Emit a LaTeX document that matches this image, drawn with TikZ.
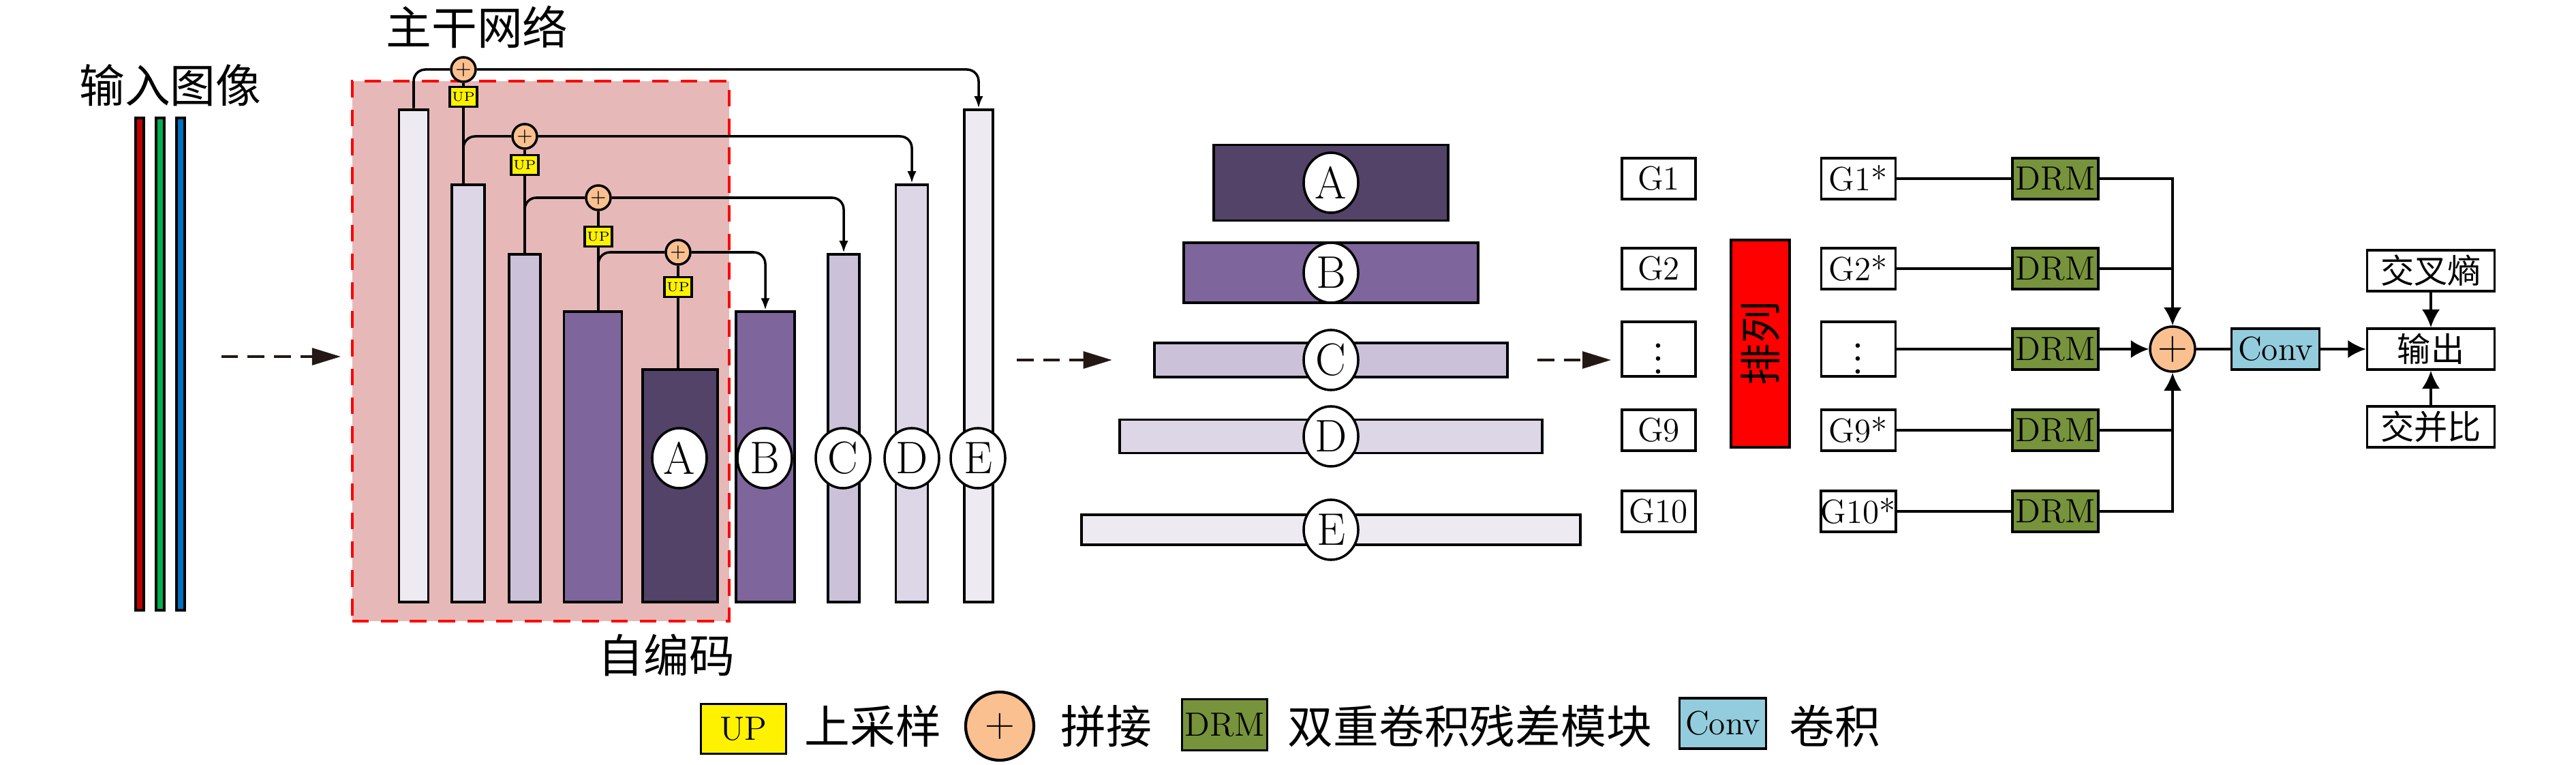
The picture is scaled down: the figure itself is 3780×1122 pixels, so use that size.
\documentclass[tikz,border=0pt]{standalone}
\usepackage{fontspec}
\newfontfamily\cjk{Noto Sans CJK SC}
\usetikzlibrary{arrows.meta,shapes.geometric}
\definecolor{lvA}{HTML}{534368}
\definecolor{lvB}{HTML}{7E659B}
\definecolor{lvC}{HTML}{CBC2DA}
\definecolor{lvD}{HTML}{DCD6E6}
\definecolor{lvE}{HTML}{EDEAF2}
\definecolor{encbg}{HTML}{E6B9B8}
\definecolor{peach}{HTML}{FAC090}
\definecolor{drmgreen}{HTML}{77933C}
\definecolor{convblue}{HTML}{93CDDD}
\definecolor{dasharr}{HTML}{231815}
\definecolor{rgbred}{HTML}{C00000}
\definecolor{rgbgreen}{HTML}{00B050}
\definecolor{rgbblue}{HTML}{0070C0}
\newcommand{\zh}[1]{{\cjk\fontsize{19}{19}\selectfont #1}}
\newcommand{\gdots}{\scalebox{1.35}{$\vdots$}}

\begin{document}
\begin{tikzpicture}[x=0.01cm,y=-0.01cm,
    vbar/.style={draw,line width=1.1pt,inner sep=0pt,anchor=south},
    hbar/.style={draw,line width=1.1pt,inner sep=0pt},
    lettr/.style={ellipse,draw,line width=1pt,fill=white,inner sep=0pt,minimum width=0.8cm,minimum height=0.88cm,font=\fontsize{19}{19}\selectfont},
    catc/.style={circle,draw,line width=1pt,fill=peach,inner sep=0pt},
    upbox/.style={draw,line width=0.9pt,fill=yellow,inner sep=0pt,minimum width=0.4cm,minimum height=0.29cm,font=\fontsize{5.5}{6}\selectfont},
    gbox/.style={draw,line width=1pt,inner sep=1pt,minimum width=1.08cm,minimum height=0.6cm,font=\fontsize{14}{14}\selectfont},
    skipline/.style={line width=1pt,rounded corners=0.17cm},
    flow/.style={dasharr,line width=1.2pt,dash pattern=on 7pt off 4pt,-{Triangle[length=12pt,width=7pt]}},
    bigarr/.style={line width=1pt,-{Latex[length=7.5pt,width=7.5pt]}}]
    \useasboundingbox (0,0) rectangle (3780,1122);
    %titles
    \node (timg) at (250,125) {\zh{输入图像}};
    \node (tbk) at (700,40) {\zh{主干网络}};
    \node (tenc) at (978,961) {\zh{自编码}};
    %input image
    \foreach \n/\x/\col in {rgbR/205/rgbred,rgbG/235/rgbgreen,rgbB/265/rgbblue}
        \node[draw,line width=1pt,fill=\col,inner sep=0pt,minimum width=0.12cm,minimum height=7.22cm] (\n) at (\x,534) {};
    %backbone
    \node[draw=red,fill=encbg,line width=1pt,dash pattern=on 7pt off 5pt,minimum width=5.53cm,minimum height=7.92cm] (enc) at (793.5,515) {};
    \foreach \n/\x/\w/\h/\col in {b1/607/0.43/7.22/lvE,b2/687/0.48/6.12/lvD,b3/770/0.46/5.10/lvC,b4/870/0.85/4.26/lvB,bA/998/1.10/3.41/lvA,bB/1123/0.86/4.26/lvB,bC/1238/0.46/5.10/lvC,bD/1338/0.47/6.12/lvD,bE/1436/0.42/7.22/lvE}
        \node[vbar,fill=\col,minimum width=\w cm,minimum height=\h cm] (\n) at (\x,885) {};
    \foreach \lt/\x in {A/997,B/1122,C/1237,D/1338,E/1435}
        \node[lettr] (c\lt) at (\x,672) {\lt};
    \foreach \i/\x/\y/\u in {1/680/102/142,2/770/200/242,3/878/290/347,4/995/370/421}{
        \node[catc,minimum size=0.36cm,font=\fontsize{8.5}{8.5}\selectfont] (p\i) at (\x,\y) {$+$};
        \node[upbox] (u\i) at (\x,\u) {UP};
    }
    \foreach \i/\j in {1/2,2/3,3/4,4/A}
        \draw[line width=1pt] (p\i.south) -- (u\i.north) (u\i.south) -- (u\i.south |- b\j.north);
    %skip connections
    \draw[skipline] (b1.north) |- (p1.west);
    \draw[skipline,-{Latex[length=5pt,width=3.8pt]}] (p1.east) -| (bE.north);
    \foreach \i/\k/\j/\dn in {2/1/2/D,3/2/3/C,4/3/4/B}{
        \draw[skipline] (u\k.south |- b\j.north) |- (p\i.west);
        \draw[skipline,-{Latex[length=5pt,width=3.8pt]}] (p\i.east) -| (b\dn.north);
    }
    %feature maps
    \foreach \n/\y/\w/\h/\col in {A/268/3.44/1.11/lvA,B/400/4.32/0.88/lvB,C/528/5.18/0.50/lvC,D/640/6.20/0.49/lvD,E/777/7.32/0.44/lvE}{
        \node[hbar,fill=\col,minimum width=\w cm,minimum height=\h cm] (h\n) at (1953,\y) {};
        \node[lettr] (m\n) at (1953,\y) {\n};
    }
    %groups
    \foreach \i/\y/\txt/\st in {1/262/G1/G1*,2/394/G2/G2*,3/512/\gdots/\gdots,4/631/G9/G9*,5/750/G10/G10*}{
        \node[gbox] (g\i) at (2434,\y) {\txt};
        \node[gbox,inner xsep=0pt,minimum width=1.09cm] (s\i) at (2727,\y) {\st};
        \node[gbox,fill=drmgreen,minimum width=1.26cm] (d\i) at (3016,\y) {DRM};
        \draw[line width=1pt] (s\i) -- (d\i);
    }
    \node[draw,line width=1pt,fill=red,rotate=90,inner sep=0pt,minimum width=3.04cm,minimum height=0.86cm,font=\cjk\fontsize{17.5}{17.5}\selectfont] (perm) at (2583,504) {排列};
    %flow
    \draw[flow,shorten <=0.52cm,shorten >=0.15cm] ([yshift=-0.08cm]enc.west -| rgbB.east) -- ([yshift=-0.08cm]enc.west);
    \draw[flow,shorten <=0.33cm,shorten >=0.6cm] (bE.east |- hC.west) -- (hC.west);
    \draw[flow,shorten <=0.42cm,shorten >=0.14cm] (hC.east) -- (hC.east -| g3.west);
    %fusion
    \node[catc,minimum size=0.66cm,font=\fontsize{19}{19}\selectfont] (sum) at (3188,512) {$+$};
    \node[gbox,fill=convblue,minimum width=1.29cm] (conv) at (3339,512) {Conv};
    \node[gbox,minimum width=1.87cm,font=\cjk\fontsize{14}{14}\selectfont] (out) at (3567,512) {输出};
    \node[gbox,minimum width=1.87cm,font=\cjk\fontsize{14}{14}\selectfont] (ce) at (3567,397) {交叉熵};
    \node[gbox,minimum width=1.87cm,font=\cjk\fontsize{14}{14}\selectfont] (iou) at (3567,626) {交并比};
    \draw[bigarr] (d1.east) -| (sum.north);
    \draw[line width=1pt] (d2.east) -- (d2.east -| sum.north);
    \draw[bigarr] (d3) -- (sum);
    \draw[line width=1pt] (d4.east) -- (d4.east -| sum.south);
    \draw[bigarr] (d5.east) -| (sum.south);
    \draw[line width=1pt] (sum) -- (conv);
    \draw[bigarr] (conv) -- (out);
    \draw[bigarr] (ce) -- (out);
    \draw[bigarr] (iou) -- (out);
    %legend
    \node[upbox,minimum width=1.25cm,minimum height=0.73cm,font=\fontsize{14}{14}\selectfont] (lup) at (1091,1069) {UP};
    \node[anchor=west,inner sep=0pt] (lupt) at (1180,1065) {\zh{上采样}};
    \node[catc,line width=1.2pt,minimum size=1cm,font=\fontsize{19}{19}\selectfont] (lcat) at (1467,1065) {$+$};
    \node[anchor=west,inner sep=0pt] (lcatt) at (1556,1065) {\zh{拼接}};
    \node[gbox,fill=drmgreen,minimum width=1.25cm,minimum height=0.75cm] (ldrm) at (1797,1063) {DRM};
    \node[anchor=west,inner sep=0pt] (ldrmt) at (1889,1065) {\zh{双重卷积残差模块}};
    \node[gbox,fill=convblue,minimum width=1.27cm,minimum height=0.74cm] (lconv) at (2528,1061) {Conv};
    \node[anchor=west,inner sep=0pt] (lconvt) at (2625,1065) {\zh{卷积}};
\end{tikzpicture}
\end{document}
